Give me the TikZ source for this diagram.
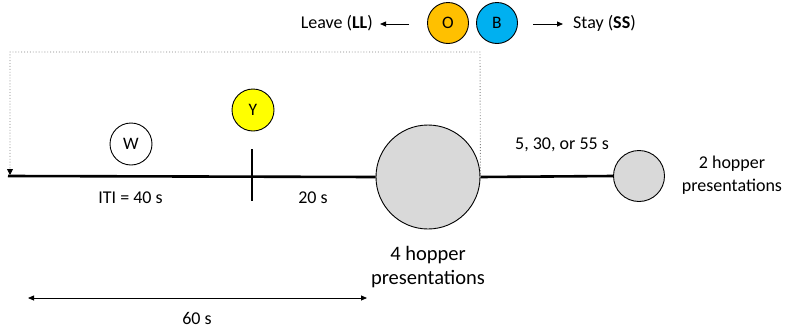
\documentclass[tikz,border=0pt]{standalone}
\usepackage{fontspec}
\setmainfont{Carlito}
\usetikzlibrary{arrows.meta}
\definecolor{cO}{HTML}{FFC000}
\definecolor{cB}{HTML}{00B0F0}
\definecolor{cY}{HTML}{FFFF00}
\definecolor{cG}{HTML}{D9D9D9}
\tikzset{
  ball/.style={circle,draw=black,line width=0.9pt,inner sep=0pt,font=\fontsize{17.5}{17.5}\selectfont},
  lbl/.style={font=\fontsize{18}{23}\selectfont,inner sep=0pt,align=center},
  biglbl/.style={font=\fontsize{20.5}{24}\selectfont,inner sep=0pt,align=center},
  thick line/.style={line width=2.6pt},
  tip/.style={-{Triangle[length=6pt,width=5pt]},line width=0.8pt},
}
\begin{document}
\begin{tikzpicture}[x=1pt,y=-1pt]
\useasboundingbox (0,0) rectangle (785,327);
% top choice
\node[ball,fill=cO,minimum size=41pt] (O) at (448,23) {O};
\node[ball,fill=cB,minimum size=41pt] (B) at (497,23) {B};
\node[lbl,anchor=east] (leave) at (373,23) {Leave (\textbf{LL})};
\node[lbl,anchor=west] (stay) at (573,23) {Stay (\textbf{SS})};
\coordinate (la) at (409,24);
\coordinate (ra) at (533,24);
\draw[tip,shorten >=7pt] (la) -- (leave.east|-la);
\draw[tip,shorten >=10pt] (ra) -- (stay.west|-ra);
% timeline
\coordinate (start) at (8,176);
\node[ball,fill=cG,minimum size=104pt] (big) at (428,177) {};
\node[ball,fill=cG,minimum size=51pt] (small) at (639,176) {};
\draw[thick line] (start) -- (big.west);
\draw[thick line] (big.east) -- (small.west);
\coordinate (tickT) at (252,149);
\coordinate (tickB) at (252,201);
\draw[thick line] (tickT) -- (tickB);
\node[ball,fill=white,minimum size=42pt] (W) at (131,144) {W};
\node[ball,fill=cY,minimum size=42pt] (Y) at (253,110) {Y};
% dotted return
\coordinate (c1) at (480,52);
\coordinate (c2) at (10,52);
\coordinate (c3) at (10,175);
\draw[gray,dotted,line width=0.9pt,-{Triangle[length=6pt,width=6pt,color=black]}] (big.east) -- (c1) -- (c2) -- (c3);
% labels
\node[lbl] (iti) at (130.5,198) {ITI = 40 s};
\node[lbl] (t20) at (313,198) {20 s};
\node[lbl] (t5) at (562,145) {5, 30, or 55 s};
\node[biglbl] (four) at (428,267) {4 hopper\\presentations};
\node[lbl] (two) at (732,175) {2 hopper\\presentations};
% 60 s
\coordinate (a1) at (28,298);
\coordinate (a2) at (367,298);
\draw[{Triangle[length=6pt,width=5pt]}-{Triangle[length=6pt,width=5pt]},line width=0.8pt] (a1) -- (a2);
\node[lbl] (sixty) at (197,318) {60 s};
\end{tikzpicture}
\end{document}
